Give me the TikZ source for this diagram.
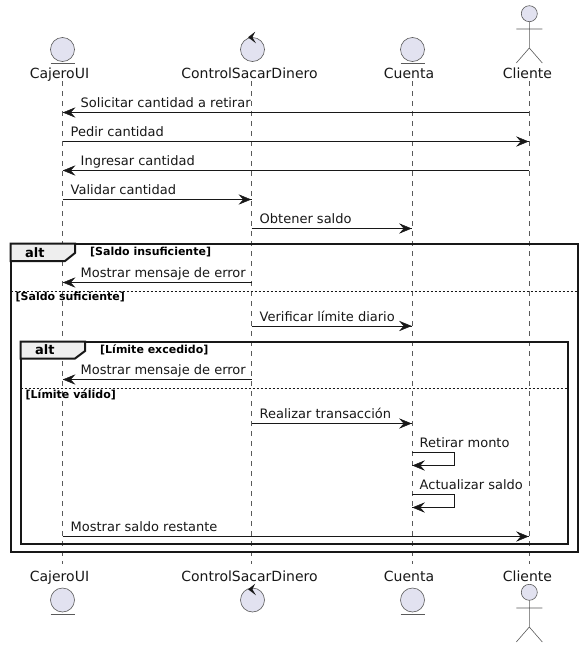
\documentclass[tikz,border=0pt]{standalone}
\usepackage{fontspec}
\setmainfont{DejaVu Sans}
\newcommand{\fpx}[1]{\fontsize{#1pt}{#1pt}\selectfont}
\definecolor{ink}{HTML}{181818}
\definecolor{softink}{HTML}{5A5A5A}
\definecolor{partfill}{HTML}{E2E2F0}
\definecolor{tabfill}{HTML}{EEEEEE}
\tikzset{
  x=1pt,y=-1pt,
  partline/.style={draw=softink,line width=.6pt},
  partshape/.style={partline,fill=partfill},
  lifeline/.style={draw=softink,line width=.6pt,dash pattern=on 5pt off 5pt},
  msgline/.style={draw=ink,line width=1pt},
  tiphead/.style={fill=ink,draw=ink,line width=.5pt,line join=miter},
  partlabel/.style={anchor=base,inner sep=0pt,font=\fpx{14},text=ink},
  msglabel/.style={anchor=base west,inner sep=0pt,font=\fpx{13},text=ink},
  altlabel/.style={anchor=base west,inner sep=0pt,font=\fpx{13}\bfseries,text=black},
  guardlabel/.style={anchor=base west,inner sep=0pt,font=\fpx{11}\bfseries,text=black},
  framebox/.style={draw=ink,line width=2pt},
  tabshape/.style={draw=ink,line width=2pt,fill=tabfill},
  elseline/.style={draw=ink,line width=1pt,dash pattern=on 2pt off 2pt},
}
% from-lifeline, to-lifeline, y, direction, label x, label
\newcommand{\msgarrow}[6]{%
  \coordinate (mfrom) at (#1 |- 0,#3);
  \coordinate (mto) at (#2 |- 0,#3);
  \draw[msgline] (mfrom) -- (mto);
  \begin{scope}[shift={(mto)}]
    \draw[tiphead] ({-1*(#4)},0) -- ++({-11*(#4)},-4.5) -- ++({4*(#4)},4.5) -- ++({-4*(#4)},4.5) -- cycle;
  \end{scope}
  \node[msglabel] at (#5,#3-5) {#6};}
\newcommand{\selfmsg}[3]{%
  \coordinate (sa) at (C |- 0,#1);
  \coordinate (sb) at (454.5,#1);
  \coordinate (sc) at (454.5,#2);
  \coordinate (sd) at (C |- 0,#2);
  \draw[msgline] (sa) -- (sb) -- (sc) -- (sd);
  \begin{scope}[shift={(sd)}]
    \draw[tiphead] (1,0) -- ++(11,-4.5) -- ++(-4,4.5) -- ++(4,4.5) -- cycle;
  \end{scope}
  \node[msglabel] at (419.5,#1-5) {#3};}
\begin{document}
\begin{tikzpicture}
\useasboundingbox (0,0) rectangle (583,648);
\fill[white] (0,0) rectangle (583,648);
% lifeline anchors
\coordinate (A) at (62.5,0);
\coordinate (B) at (251.5,0);
\coordinate (C) at (412,0);
\coordinate (D) at (529,0);
\coordinate (At) at (62.5,81); \coordinate (Ab) at (62.5,564);
\coordinate (Bt) at (251.5,81); \coordinate (Bb) at (251.5,564);
\coordinate (Ct) at (412,81); \coordinate (Cb) at (412,564);
\coordinate (Dt) at (529,81); \coordinate (Db) at (529,564);
\draw[lifeline] (At) -- (Ab);
\draw[lifeline] (Bt) -- (Bb);
\draw[lifeline] (Ct) -- (Cb);
\draw[lifeline] (Dt) -- (Db);
% frames
\draw[framebox] (10.5,243.5) rectangle (578,551.5);
\draw[tabshape] (10.5,243.5) -- (75,243.5) -- (75,253) -- (65,261) -- (10.5,261) -- cycle;
\draw[elseline] (10.5,291) -- (578,291);
\draw[framebox] (20.5,341.5) rectangle (567.5,544);
\draw[tabshape] (20.5,341.5) -- (85,341.5) -- (85,351) -- (75,358.5) -- (20.5,358.5) -- cycle;
\draw[elseline] (20.5,388.5) -- (567.5,388.5);
\node[altlabel] (alt1) at (25,257) {alt};
\node[guardlabel] (g1) at (90,255.5) {[Saldo insuficiente]};
\node[guardlabel] (g2) at (15.5,300.5) {[Saldo suficiente]};
\node[altlabel] (alt2) at (35,354.5) {alt};
\node[guardlabel] (g3) at (100,353) {[Límite excedido]};
\node[guardlabel] (g4) at (25.5,398.5) {[Límite válido]};
% messages
\msgarrow{D}{A}{112.5}{-1}{80.5}{Solicitar cantidad a retirar}
\msgarrow{A}{D}{141.5}{1}{70.5}{Pedir cantidad}
\msgarrow{D}{A}{170.5}{-1}{80.5}{Ingresar cantidad}
\msgarrow{A}{B}{199.5}{1}{70.5}{Validar cantidad}
\msgarrow{B}{C}{228.5}{1}{259.5}{Obtener saldo}
\msgarrow{B}{A}{282.5}{-1}{80.5}{Mostrar mensaje de error}
\msgarrow{B}{C}{326}{1}{259.5}{Verificar límite diario}
\msgarrow{B}{A}{379.5}{-1}{80.5}{Mostrar mensaje de error}
\msgarrow{B}{C}{423.5}{1}{259.5}{Realizar transacción}
\selfmsg{452.5}{465.5}{Retirar monto}
\selfmsg{494.5}{507.5}{Actualizar saldo}
\msgarrow{A}{D}{536.5}{1}{70.5}{Mostrar saldo restante}
% participant shapes, top
\draw[partshape] (62.5,49.5) circle (12);
\draw[partline] (50.5,63) -- (74.5,63);
\draw[partshape] (252.5,49.5) circle (12);
\fill[ink] (248,37.3) -- (255.2,31.7) -- (252.4,37.3) -- (256,43.3) -- cycle;
\draw[partshape] (412.5,49.5) circle (12);
\draw[partline] (400.5,63) -- (424.5,63);
\draw[partshape] (529.3,13.7) circle (8);
\draw[partline] (529.3,21.7) -- (529.3,48) (516.3,29) -- (542.3,29) (516.3,63) -- (529.3,48) -- (542.3,63);
% participant shapes, bottom
\draw[partshape] (62.5,600) circle (12);
\draw[partline] (50.5,614) -- (74.5,614);
\draw[partshape] (252.5,600) circle (12);
\fill[ink] (248,589.3) -- (255.2,583.7) -- (252.4,589.3) -- (256,595.3) -- cycle;
\draw[partshape] (412.5,600) circle (12);
\draw[partline] (400.5,614) -- (424.5,614);
\draw[partshape] (529.3,592.3) circle (8);
\draw[partline] (529.3,600.3) -- (529.3,627) (516.3,608) -- (542.3,608) (516.3,642) -- (529.3,627) -- (542.3,642);
% participant labels
\node[partlabel] (lA1) at (59.5,78) {CajeroUI};
\node[partlabel] (lB1) at (249.5,78) {ControlSacarDinero};
\node[partlabel] (lC1) at (409,78) {Cuenta};
\node[partlabel] (lD1) at (527.5,78) {Cliente};
\node[partlabel] (lA2) at (59.5,581) {CajeroUI};
\node[partlabel] (lB2) at (249.5,581) {ControlSacarDinero};
\node[partlabel] (lC2) at (409,581) {Cuenta};
\node[partlabel] (lD2) at (527.5,581) {Cliente};
\end{tikzpicture}
\end{document}
